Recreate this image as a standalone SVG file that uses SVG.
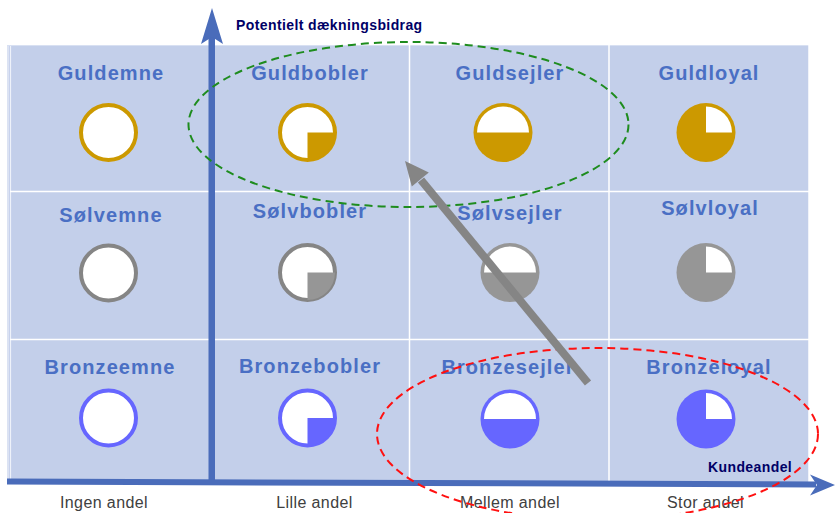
<svg xmlns="http://www.w3.org/2000/svg" width="835" height="513" viewBox="0 0 835 513">
  <style>
    .cell-bg { fill: #C3CFEA; }
    .grid { stroke: #FFFFFF; stroke-width: 1.5; fill: none; }
    .head { font-family: "Liberation Sans", Arial, sans-serif; font-weight: bold; font-size: 20px; letter-spacing: 1.1px; fill: #4A6FC4; text-anchor: middle; }
    .axis-title { font-family: "Liberation Sans", Arial, sans-serif; font-weight: bold; font-size: 14px; letter-spacing: 0.4px; fill: #000066; }
    .tick { font-family: "Liberation Sans", Arial, sans-serif; font-size: 16px; letter-spacing: 0.4px; fill: #404040; text-anchor: middle; }
    .gold { color: #CC9900; }
    .silver { color: #969696; }
    .bronze { color: #6666FF; }
    .ring { fill: #FFFFFF; stroke: currentColor; stroke-width: 4; }
    .silver .ring { stroke: #858585; }
    .solid { fill: currentColor; }
    .hole { fill: #FFFFFF; }
    .axis { fill: #4A6CBA; }
    .zone { fill: none; stroke-width: 2; stroke-dasharray: 8 5; }
  </style>

  <!-- table background with white cell borders -->
  <g id="grid">
    <rect class="cell-bg" x="7" y="45" width="802" height="439"/>
    <line x1="8" y1="45" x2="8" y2="484" stroke="#DCE3F3" stroke-width="2"/>
    <line x1="10.5" y1="45" x2="10.5" y2="484" stroke="#EEF2FA" stroke-width="1.2"/>
    <line x1="7" y1="45.5" x2="809" y2="45.5" stroke="#D8E0F2" stroke-width="1.2"/>
    <line class="grid" x1="809" y1="45" x2="809" y2="484"/>
    <line class="grid" x1="10" y1="191.5" x2="809" y2="191.5"/>
    <line class="grid" x1="10" y1="339.5" x2="809" y2="339.5"/>
    <line class="grid" x1="409.5" y1="45" x2="409.5" y2="484"/>
    <line class="grid" x1="609" y1="45" x2="609" y2="484"/>
  </g>

  <!-- gold row -->
  <g id="guldemne" class="gold">
    <text class="head" x="111" y="80">Guldemne</text>
    <circle class="ring" cx="108.5" cy="132.5" r="27.5"/>
  </g>
  <g id="guldbobler" class="gold">
    <text class="head" x="310" y="80">Guldbobler</text>
    <g transform="translate(307.5 132.5)">
      <circle class="ring" r="27.5"/>
      <path class="solid" d="M0 0 L27.5 0 A27.5 27.5 0 0 1 0 27.5 Z"/>
    </g>
  </g>
  <g id="guldsejler" class="gold">
    <text class="head" x="510" y="79.5">Guldsejler</text>
    <g transform="translate(503 132.5)">
      <circle class="solid" r="29.5"/>
      <path class="hole" d="M-26 0 A26 26 0 0 1 26 0 Z"/>
    </g>
  </g>
  <g id="guldloyal" class="gold">
    <text class="head" x="709" y="79.5">Guldloyal</text>
    <g transform="translate(706 132.5)">
      <circle class="solid" r="29.5"/>
      <path class="hole" d="M0 0 L0 -26 A26 26 0 0 1 26 0 Z"/>
    </g>
  </g>

  <!-- silver row -->
  <g id="solvemne" class="silver">
    <text class="head" x="111" y="222">Sølvemne</text>
    <circle class="ring" cx="108.5" cy="273" r="27.5"/>
  </g>
  <g id="solvbobler" class="silver">
    <text class="head" x="310" y="218">Sølvbobler</text>
    <g transform="translate(307.5 272.5)">
      <circle class="ring" r="27.5"/>
      <path class="solid" d="M0 0 L27.5 0 A27.5 27.5 0 0 1 0 27.5 Z"/>
    </g>
  </g>
  <g id="solvsejler" class="silver">
    <text class="head" x="510" y="220">Sølvsejler</text>
    <g transform="translate(510 272.5)">
      <circle class="solid" r="29.5"/>
      <path class="hole" d="M-26 0 A26 26 0 0 1 26 0 Z"/>
    </g>
  </g>
  <g id="solvloyal" class="silver">
    <text class="head" x="710" y="215">Sølvloyal</text>
    <g transform="translate(706 272.5)">
      <circle class="solid" r="29.5"/>
      <path class="hole" d="M0 0 L0 -26 A26 26 0 0 1 26 0 Z"/>
    </g>
  </g>

  <!-- bronze row -->
  <g id="bronzeemne" class="bronze">
    <text class="head" x="110" y="374">Bronzeemne</text>
    <circle class="ring" cx="108.5" cy="418" r="27.5"/>
  </g>
  <g id="bronzebobler" class="bronze">
    <text class="head" x="310" y="373">Bronzebobler</text>
    <g transform="translate(307.5 418)">
      <circle class="ring" r="27.5"/>
      <path class="solid" d="M0 0 L27.5 0 A27.5 27.5 0 0 1 0 27.5 Z"/>
    </g>
  </g>
  <g id="bronzesejler" class="bronze">
    <text class="head" x="508" y="374">Bronzesejler</text>
    <g transform="translate(510 419)">
      <circle class="solid" r="29.5"/>
      <path class="hole" d="M-26 0 A26 26 0 0 1 26 0 Z"/>
    </g>
  </g>
  <g id="bronzeloyal" class="bronze">
    <text class="head" x="709" y="374">Bronzeloyal</text>
    <g transform="translate(706 419)">
      <circle class="solid" r="29.5"/>
      <path class="hole" d="M0 0 L0 -26 A26 26 0 0 1 26 0 Z"/>
    </g>
  </g>

  <!-- axes -->
  <g id="axes">
    <rect class="axis" x="208.5" y="36" width="6.5" height="449"/>
    <polygon class="axis" points="212,8 223,44 212,37 201,44"/>
    <polygon class="axis" points="7,478.5 816,481.5 816,487.5 7,484.5"/>
    <polygon class="axis" points="835,485 810,474.5 817,485 810,495.5"/>
    <text class="axis-title" x="236" y="30">Potentielt dækningsbidrag</text>
    <text class="axis-title" x="708" y="472">Kundeandel</text>
  </g>

  <!-- share labels along the horizontal axis -->
  <g id="share-labels">
    <text class="tick" x="104" y="508">Ingen andel</text>
    <text class="tick" x="314.5" y="508">Lille andel</text>
    <text class="tick" x="510" y="508">Mellem andel</text>
    <text class="tick" x="705.5" y="508">Stor andel</text>
  </g>

  <!-- connectors: target and current zones, and the movement arrow -->
  <g id="connectors">
    <ellipse class="zone" cx="408.5" cy="124.5" rx="220" ry="82.5" stroke="#1E8C1E"/>
    <ellipse class="zone" cx="597.5" cy="434" rx="220.5" ry="86" stroke="#FF1010"/>
    <line x1="588" y1="383" x2="421" y2="180" stroke="#858585" stroke-width="8"/>
    <polygon points="405,161 428.8,172.5 411.8,186.5" fill="#858585"/>
  </g>
</svg>
